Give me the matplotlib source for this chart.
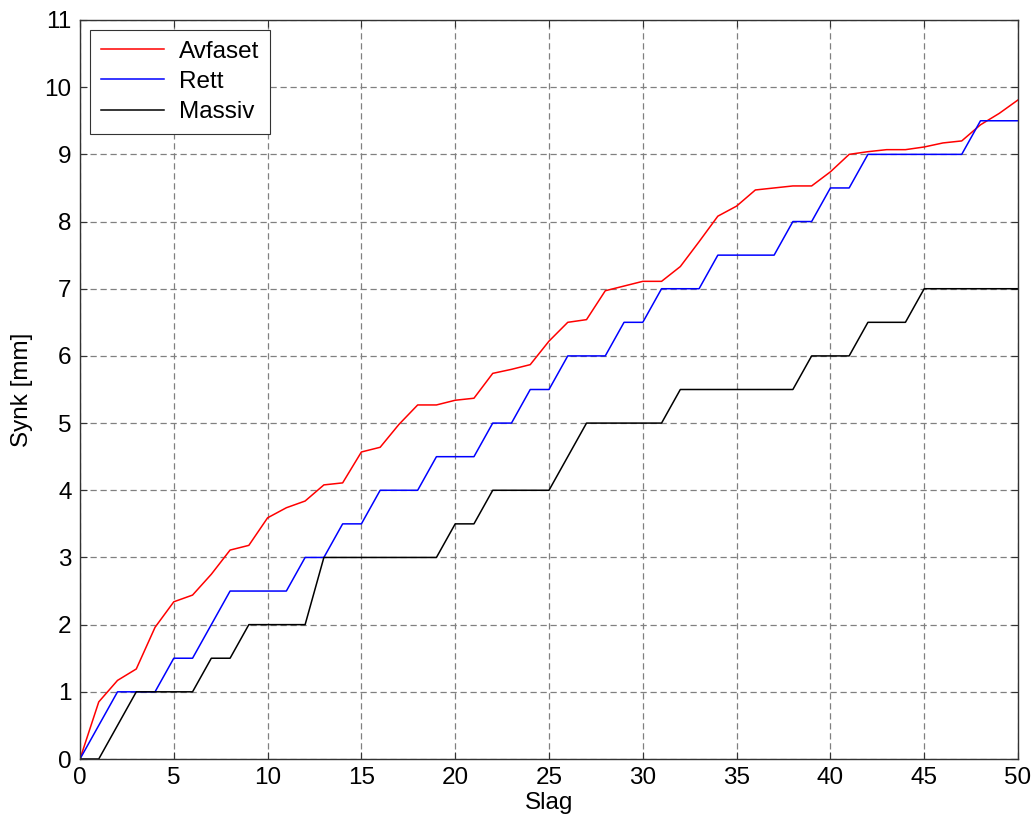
import matplotlib
matplotlib.use("Agg")
import matplotlib.pyplot as plt
import numpy as np

slag = list(range(0, 51))

avfaset = [0, 0.85, 1.17, 1.34, 1.96, 2.34, 2.44, 2.75, 3.11, 3.18, 3.59,
           3.74, 3.84, 4.08, 4.11, 4.57, 4.64, 4.98, 5.27, 5.27, 5.34,
           5.37, 5.74, 5.80, 5.87, 6.22, 6.50, 6.54, 6.97, 7.04, 7.11,
           7.11, 7.33, 7.70, 8.08, 8.23, 8.47, 8.50, 8.53, 8.53, 8.74,
           9.00, 9.04, 9.07, 9.07, 9.11, 9.17, 9.20, 9.44, 9.61, 9.81]

rett = [0, 0.5, 1, 1, 1, 1.5, 1.5, 2, 2.5, 2.5, 2.5,
        2.5, 3, 3, 3.5, 3.5, 4, 4, 4, 4.5, 4.5,
        4.5, 5, 5, 5.5, 5.5, 6, 6, 6, 6.5, 6.5,
        7, 7, 7, 7.5, 7.5, 7.5, 7.5, 8, 8, 8.5,
        8.5, 9, 9, 9, 9, 9, 9, 9.5, 9.5, 9.5]

massiv = [0, 0, 0.5, 1, 1, 1, 1, 1.5, 1.5, 2, 2,
          2, 2, 3, 3, 3, 3, 3, 3, 3, 3.5,
          3.5, 4, 4, 4, 4, 4.5, 5, 5, 5, 5,
          5, 5.5, 5.5, 5.5, 5.5, 5.5, 5.5, 5.5, 6, 6,
          6, 6.5, 6.5, 6.5, 7, 7, 7, 7, 7, 7]

series_names = ["Avfaset", "Rett", "Massiv"]
x_ticks = list(range(0, 51, 5))
y_ticks = list(range(0, 12))

plt.rcParams['font.family'] = ['Liberation Sans', 'DejaVu Sans']

fig = plt.figure(figsize=(10.36, 8.27), dpi=100)
ax = fig.add_axes([80/1036, 1-759/827, (1018-80)/1036, (759-20)/827])

ax.plot(slag, avfaset, color=(1, 0, 0), lw=1.1, label=series_names[0])
ax.plot(slag, rett, color=(0, 0, 1), lw=1.1, label=series_names[1])
ax.plot(slag, massiv, color='black', lw=1.1, label=series_names[2])

ax.set_xlim(0, 50)
ax.set_ylim(0, 11)
ax.set_xticks(x_ticks)
ax.set_yticks(y_ticks)
ax.tick_params(direction='in', labelsize=17.5, top=True, right=True, length=5,
               width=0.8, color='#333333', pad=6)
ax.grid(True, color='#808080', linestyle=(0, (5, 3)), linewidth=0.9)
for s in ax.spines.values():
    s.set_linewidth(1.0)
    s.set_color('#333333')

ax.set_xlabel("Slag", fontsize=17.5, labelpad=2)
ax.set_ylabel("Synk [mm]", fontsize=17.5, labelpad=8)

leg = ax.legend(loc='upper left', bbox_to_anchor=(10/938, 1-10/739), fontsize=17.5,
                frameon=True, fancybox=False, edgecolor='#333333',
                framealpha=1, handlelength=2.6, handletextpad=0.6,
                borderpad=0.45, labelspacing=0.33, borderaxespad=0)
leg.get_frame().set_linewidth(0.8)

fig.savefig("out.png", dpi=100)
